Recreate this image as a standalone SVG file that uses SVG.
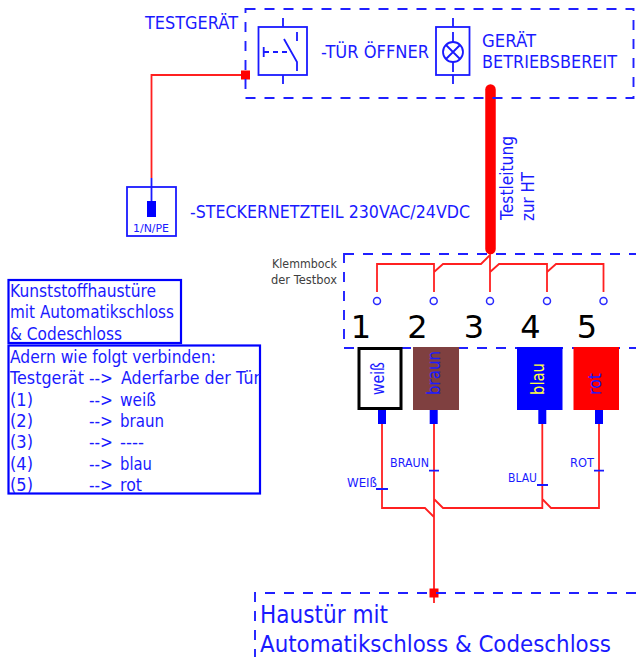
<svg xmlns="http://www.w3.org/2000/svg" width="636" height="657" viewBox="0 0 636 657">
<style>
text{font-family:"DejaVu Sans","Noto Sans",sans-serif;fill:#1a1aff}
.d{fill:none;stroke:#2020ff;stroke-width:1.900;stroke-dasharray:10 9}
.b{fill:none;stroke:#1a1aff;stroke-width:1.800}
.bt{fill:none;stroke:#0000ff;stroke-width:2.200}
.r{fill:none;stroke:#ff2020;stroke-width:1.800}
.l{font-size:17px}
.c{font-size:12px}
.n{font-size:32px;fill:#000;text-anchor:middle}
.o{fill:#fff;stroke:#2a2aff;stroke-width:1.500}
</style>
<rect width="636" height="657" fill="#fff"/>
<g id="connectors">
<path class="r" d="M250 75H151.500V178"/>
<path class="b" d="M151.500 178V201"/>
<path class="r" d="M377 292V264H434V292M434 272L443 264H481L490 255V292M490 272L499 264H547V292M547 272L556 264H603.500V292"/>
<path d="M490.500 89.500V249" stroke="#f00" stroke-width="10.500" stroke-linecap="round" fill="none"/>
<path class="r" d="M382 424V508H425L434 517M434 424V603M434 499L443 508H542.300V424M542.300 499L551 508H599V424"/>
<path class="b" d="M376 489H388M429 470.700H439M537 485H548M594 470.700H604"/>
<rect x="241" y="70.500" width="9" height="9" fill="#f00"/>
<rect x="429.500" y="588.500" width="9" height="9" fill="#f00"/>
</g>
<g id="testgeraet">
<rect class="d" x="245.500" y="9" width="388" height="89"/>
<text x="145" y="29" class="l" textLength="93" lengthAdjust="spacingAndGlyphs">TESTGERÄT</text>
</g>
<g id="switch">
<rect class="b" x="258.500" y="27" width="48.500" height="48"/>
<path class="b" d="M283 18V27M283 75V84M263.700 47V57M297 32V41M284 39L297 62V71"/>
<path class="b" stroke-dasharray="5 4" d="M264 52H291"/>
<text x="321" y="58" class="l" textLength="108" lengthAdjust="spacingAndGlyphs">-TÜR ÖFFNER</text>
</g>
<g id="lamp">
<rect class="b" x="436" y="27" width="33.500" height="48"/>
<path class="b" d="M453 18V27M453 75V84M453 32V42M453 62V72M446 45L460 59M460 45L446 59"/>
<circle class="b" cx="453" cy="52" r="10"/>
<text x="482" y="47" class="l" textLength="54" lengthAdjust="spacingAndGlyphs">GERÄT</text>
<text x="482" y="68" class="l" textLength="135" lengthAdjust="spacingAndGlyphs">BETRIEBSBEREIT</text>
</g>
<g id="netzteil">
<rect class="b" x="127" y="187" width="49" height="49"/>
<rect x="147" y="201" width="9" height="16" fill="#00f"/>
<text x="133" y="232" font-size="11" textLength="36" lengthAdjust="spacingAndGlyphs">1/N/PE</text>
<text x="190" y="218" class="l" textLength="280" lengthAdjust="spacingAndGlyphs">-STECKERNETZTEIL 230VAC/24VDC</text>
</g>
<g id="testleitung">
<text transform="translate(513 220) rotate(-90)" class="l" textLength="84" lengthAdjust="spacingAndGlyphs">Testleitung</text>
<text transform="translate(534 221) rotate(-90)" class="l" textLength="49" lengthAdjust="spacingAndGlyphs">zur HT</text>
</g>
<g id="testbox">
<rect class="d" x="344" y="254" width="300" height="94"/>
<text x="272" y="268" style="fill:#404040" font-size="11.500" textLength="65" lengthAdjust="spacingAndGlyphs">Klemmbock</text>
<text x="271" y="284" style="fill:#404040" font-size="11.500" textLength="66" lengthAdjust="spacingAndGlyphs">der Testbox</text>
<circle class="o" cx="377" cy="301" r="3.500"/>
<circle class="o" cx="433.700" cy="301" r="3.500"/>
<circle class="o" cx="490" cy="301" r="3.500"/>
<circle class="o" cx="547" cy="301" r="3.500"/>
<circle class="o" cx="603.500" cy="301" r="3.500"/>
<text x="361" y="338" class="n">1</text>
<text x="417.500" y="338" class="n">2</text>
<text x="474" y="338" class="n">3</text>
<text x="530.500" y="338" class="n">4</text>
<text x="587" y="338" class="n">5</text>
</g>
<g id="ader-weiss">
<rect x="359" y="348.500" width="42" height="60" fill="#fff" stroke="#000" stroke-width="3"/>
<rect x="378" y="410" width="8" height="14" fill="#00f"/>
<text transform="translate(384 395) rotate(-90)" class="l" textLength="33" lengthAdjust="spacingAndGlyphs">weiß</text>
<text x="347" y="486.500" class="c" textLength="30" lengthAdjust="spacingAndGlyphs">WEIß</text>
</g>
<g id="ader-braun">
<rect x="413" y="347" width="46" height="63" fill="#7f4040"/>
<rect x="429.700" y="410" width="8" height="14" fill="#00f"/>
<text transform="translate(440 395) rotate(-90)" class="l" textLength="44" lengthAdjust="spacingAndGlyphs">braun</text>
<text x="390" y="467" class="c" textLength="39" lengthAdjust="spacingAndGlyphs">BRAUN</text>
</g>
<g id="ader-blau">
<rect x="517" y="347" width="45.500" height="63" fill="#00f"/>
<rect x="538.300" y="410" width="8" height="14" fill="#00f"/>
<text transform="translate(544 395) rotate(-90)" class="l" textLength="32" lengthAdjust="spacingAndGlyphs" style="fill:#ffff40">blau</text>
<text x="508" y="482" class="c" textLength="29" lengthAdjust="spacingAndGlyphs">BLAU</text>
</g>
<g id="ader-rot">
<rect x="573.500" y="347" width="45.500" height="63" fill="#f00"/>
<rect x="595" y="410" width="8" height="14" fill="#00f"/>
<text transform="translate(600.700 395) rotate(-90)" class="l" textLength="22" lengthAdjust="spacingAndGlyphs">rot</text>
<text x="570" y="467" class="c" textLength="24" lengthAdjust="spacingAndGlyphs">ROT</text>
</g>
<g id="info">
<rect class="bt" x="8.500" y="280" width="172.500" height="63"/>
<text x="10" y="297" class="l" textLength="146" lengthAdjust="spacingAndGlyphs">Kunststoffhaustüre</text>
<text x="10" y="318" class="l" textLength="164" lengthAdjust="spacingAndGlyphs">mit Automatikschloss</text>
<text x="10" y="340" class="l" textLength="112" lengthAdjust="spacingAndGlyphs">&amp; Codeschloss</text>
</g>
<g id="adern">
<rect class="bt" x="8.500" y="345.500" width="251.500" height="148"/>
<text x="10" y="363" class="l" textLength="206" lengthAdjust="spacingAndGlyphs">Adern wie folgt verbinden:</text>
<text x="10" y="384" class="l" textLength="74" lengthAdjust="spacingAndGlyphs">Testgerät</text>
<text x="89" y="384" class="l" textLength="24" lengthAdjust="spacingAndGlyphs">--&gt;</text>
<text x="121" y="384" class="l" textLength="139" lengthAdjust="spacingAndGlyphs">Aderfarbe der Tür</text>
<text x="10" y="405.500" class="l" textLength="23" lengthAdjust="spacingAndGlyphs">(1)</text>
<text x="89" y="405.500" class="l" textLength="24" lengthAdjust="spacingAndGlyphs">--&gt;</text>
<text x="120" y="405.500" class="l" textLength="36" lengthAdjust="spacingAndGlyphs">weiß</text>
<text x="10" y="427" class="l" textLength="23" lengthAdjust="spacingAndGlyphs">(2)</text>
<text x="89" y="427" class="l" textLength="24" lengthAdjust="spacingAndGlyphs">--&gt;</text>
<text x="120" y="427" class="l" textLength="44" lengthAdjust="spacingAndGlyphs">braun</text>
<text x="10" y="448" class="l" textLength="23" lengthAdjust="spacingAndGlyphs">(3)</text>
<text x="89" y="448" class="l" textLength="24" lengthAdjust="spacingAndGlyphs">--&gt;</text>
<text x="120" y="448" class="l" textLength="24" lengthAdjust="spacingAndGlyphs">----</text>
<text x="10" y="469.500" class="l" textLength="23" lengthAdjust="spacingAndGlyphs">(4)</text>
<text x="89" y="469.500" class="l" textLength="24" lengthAdjust="spacingAndGlyphs">--&gt;</text>
<text x="120" y="469.500" class="l" textLength="32" lengthAdjust="spacingAndGlyphs">blau</text>
<text x="10" y="491" class="l" textLength="23" lengthAdjust="spacingAndGlyphs">(5)</text>
<text x="89" y="491" class="l" textLength="24" lengthAdjust="spacingAndGlyphs">--&gt;</text>
<text x="120" y="491" class="l" textLength="22" lengthAdjust="spacingAndGlyphs">rot</text>
</g>
<g id="haustuer">
<path class="d" d="M636 593H255V660"/>
<text x="260" y="623" font-size="24" textLength="128" lengthAdjust="spacingAndGlyphs">Haustür mit</text>
<text x="260" y="652" font-size="23" textLength="351" lengthAdjust="spacingAndGlyphs">Automatikschloss &amp; Codeschloss</text>
</g>
</svg>
